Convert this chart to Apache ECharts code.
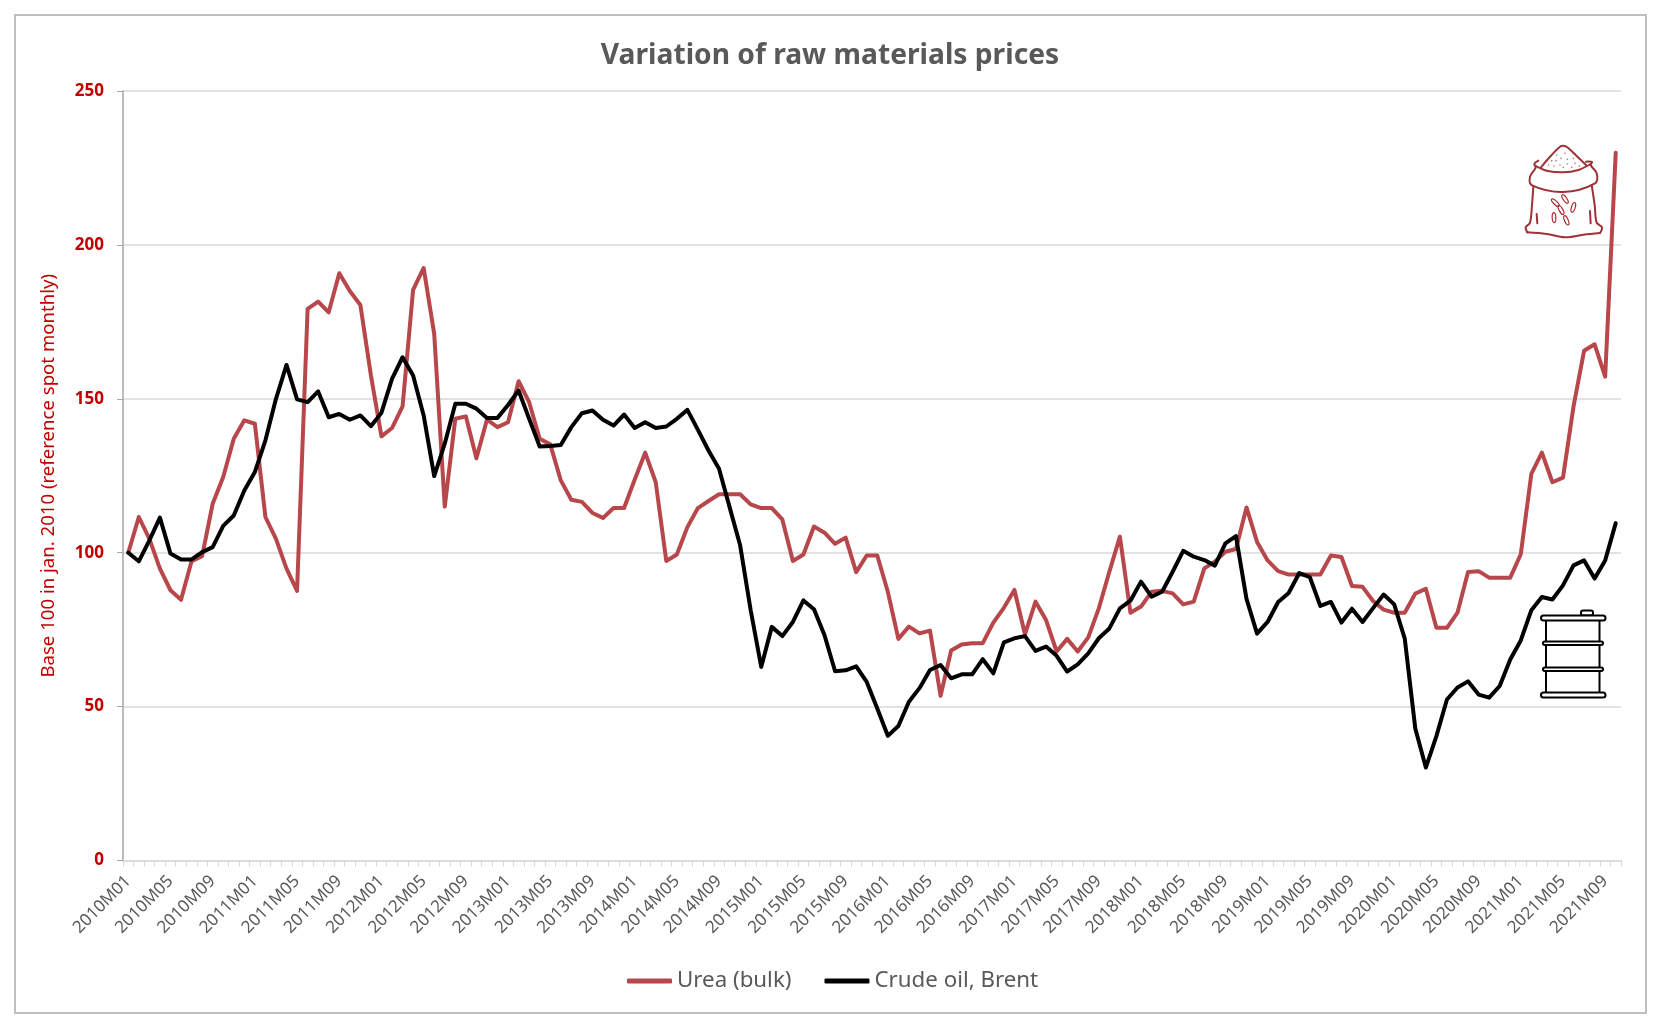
<!DOCTYPE html>
<html>
<head>
<meta charset="utf-8">
<style>html,body{margin:0;padding:0;background:#fff}#c{width:1668px;height:1028px}</style>
<script src="https://cdn.jsdelivr.net/npm/echarts@6/dist/echarts.min.js"></script>
</head>
<body>
<div id="c"></div>
<script>
const years = [2010,2011,2012,2013,2014,2015,2016,2017,2018,2019,2020,2021];
const months = ['01','02','03','04','05','06','07','08','09','10','11','12'];
const categories = [];
years.forEach(y => months.forEach(m => categories.push(y + 'M' + m)));
categories.splice(142);

const urea = [
100,111.6,104.5,94.8,87.8,84.7,97.2,98.9,115.9,124.6,137,143,141.9,111.6,104.5,94.8,87.6,179.2,181.6,178.1,
190.8,185,180.5,157.6,137.8,140.5,147.5,185.4,192.5,171.1,115,143.5,144.3,130.7,143.2,140.8,142.4,155.7,148.9,137,
135.2,123.5,117.2,116.5,112.9,111.3,114.5,114.5,123.7,132.5,122.9,97.3,99.4,108.3,114.5,116.8,119,119,119,115.7,
114.5,114.5,110.8,97.3,99.4,108.5,106.5,102.9,104.9,93.7,99.1,99.1,87.3,72,76,73.8,74.7,53.5,68.2,70.2,
70.6,70.6,77.3,82.1,87.9,73.5,84.1,78.1,67.9,72,67.9,72.5,81.9,93.8,105.2,80.5,82.5,87.3,87.6,86.8,
83.2,84.1,94.9,97.1,100.3,101.2,114.7,103.5,97.5,94,92.9,92.9,92.9,92.9,99.1,98.6,89.2,88.9,84.3,81.5,
80.5,80.5,86.7,88.3,75.6,75.6,80.5,93.7,94,91.9,91.9,91.9,99.5,125.6,132.5,122.9,124.4,147.5,165.6,167.7,
157.2,229.9];

const brent = [
100,97.2,104,111.4,99.7,97.8,97.8,100.2,101.8,108.7,112.1,120.2,126.2,136.5,150,161,149.8,148.9,152.4,144,
145.1,143.2,144.6,141.1,145.5,156.5,163.5,157.6,144.6,124.9,135.4,148.4,148.4,146.8,143.8,143.8,148,152.7,143.5,134.5,
134.7,135,140.8,145.3,146.2,143.2,141.3,144.9,140.5,142.4,140.5,141,143.5,146.4,139.9,133.2,127.3,114.8,102.4,81.3,
62.9,75.9,72.9,77.5,84.5,81.6,73.2,61.5,61.8,63.1,58,49.4,40.5,43.7,51.6,56,61.9,63.5,59.2,60.5,
60.5,65.4,60.8,70.9,72.2,72.9,68.1,69.5,66.5,61.4,63.7,67.3,72.2,75.4,81.9,84.4,90.6,85.7,87.3,93.8,
100.6,98.7,97.6,95.8,103,105.4,85,73.7,77.5,84,86.9,93.4,92.1,82.7,84,77.3,81.8,77.5,82,86.4,
83.2,72.1,42.9,30.2,40.4,52.3,56.2,58.2,53.9,52.9,56.7,65.3,71.5,81.3,85.6,84.8,89.4,95.9,97.5,91.6,
97.5,109.6];

const FONT = '"Noto Sans", sans-serif';
const RED = '#B7474B', SACK = '#9E3237', GREY = '#595959', TICKRED = '#C00000';

const sackStroke = {stroke: SACK, lineWidth: 6, fill: 'none', lineCap: 'round', lineJoin: 'round'};
const sackDots = [[230,75],[255,70],[215,92],[228,92],[243,85],[262,88],[280,85],[205,105],[222,108],[240,105],[262,102],[285,100],[298,108],[275,112],[250,112]];
const sackGrains = [[226,218,0.8],[255,207,0.6],[280,232,-0.3],[243,240,0.5],[259,271,0.4],[222,263,0.05]];
function sackLine(points, fill) {
  return {type: 'polyline', shape: {points, smooth: 0.35}, style: Object.assign({}, sackStroke, fill ? {fill} : {})};
}
const sack = {
  type: 'group', x: 1480, y: 130, scaleX: 1/3, scaleY: 1/3, z: 50,
  children: [
    sackLine([[160,170],[156,225],[150,278],[137,292],[142,307]], null),
    sackLine([[142,307],[200,312],[255,322],[310,314],[360,309]], null),
    sackLine([[360,309],[366,292],[350,278],[344,225],[335,165]], null),
    sackLine([[183,112],[212,78],[240,50],[250,47],[262,52],[290,78],[318,105]], '#fff'),
    sackLine([[175,92],[163,102],[167,113],[150,140],[156,166],[250,186],[345,160],[350,130],[332,105],[336,96],[318,95]], null),
    sackLine([[165,107],[200,122],[250,127],[295,120],[332,102]], null),
    {type: 'line', shape: {x1: 170, y1: 252, x2: 172, y2: 280}, style: sackStroke},
    {type: 'line', shape: {x1: 330, y1: 243, x2: 332, y2: 280}, style: sackStroke}
  ].concat(sackGrains.map(g => ({
    type: 'ellipse', x: g[0], y: g[1], rotation: g[2],
    shape: {cx: 0, cy: 0, rx: 5.5, ry: 15},
    style: {stroke: '#A8242B', lineWidth: 3.5, fill: 'none'}
  }))).concat(sackDots.map(d => ({
    type: 'circle', shape: {cx: d[0], cy: d[1], r: 2.5}, style: {fill: '#B47A7C'}
  })))
};

const barrelStyle = {stroke: '#000', lineWidth: 2, fill: '#fff'};
const barrelLine = {stroke: '#000', lineWidth: 2};
const barrel = {
  type: 'group', x: 0, y: 0, z: 50,
  children: [
    {type: 'rect', shape: {x: 1581, y: 610.5, width: 12, height: 5, r: 2}, style: barrelStyle},
    {type: 'line', shape: {x1: 1546, y1: 620, x2: 1546, y2: 693}, style: barrelLine},
    {type: 'line', shape: {x1: 1599.5, y1: 620, x2: 1599.5, y2: 693}, style: barrelLine},
    {type: 'rect', shape: {x: 1543, y: 641.5, width: 60, height: 3.5, r: 1.7}, style: barrelStyle},
    {type: 'rect', shape: {x: 1543, y: 667.5, width: 60, height: 3.5, r: 1.7}, style: barrelStyle},
    {type: 'rect', shape: {x: 1541, y: 615.5, width: 64.5, height: 5, r: 2.5}, style: barrelStyle},
    {type: 'rect', shape: {x: 1541, y: 692.5, width: 64.5, height: 5, r: 2.5}, style: barrelStyle}
  ]
};

const chart = echarts.init(document.getElementById('c'), null, {renderer: 'canvas', width: 1668, height: 1028});
chart.setOption({
  animation: false,
  backgroundColor: '#fff',
  title: {
    text: 'Variation of raw materials prices',
    left: 825, top: 37, textAlign: 'center',
    textStyle: {fontFamily: FONT, fontSize: 28.2, fontWeight: 'bold', color: GREY}
  },
  legend: {
    left: 622, top: 965, itemWidth: 45, itemHeight: 5, itemGap: 33, icon: 'roundRect',
    textStyle: {fontFamily: FONT, fontSize: 22.3, color: GREY},
    data: ['Urea (bulk)', 'Crude oil, Brent']
  },
  grid: {left: 123, top: 91, width: 1498, height: 769.5},
  xAxis: {
    type: 'category',
    data: categories,
    boundaryGap: true,
    axisLine: {lineStyle: {color: '#D9D9D9', width: 1.5}},
    axisTick: {show: true, interval: 0, length: 6, lineStyle: {color: '#D9D9D9', width: 1}},
    axisLabel: {interval: 3, rotate: 45, margin: 18, fontFamily: FONT, fontSize: 17, color: GREY}
  },
  yAxis: {
    type: 'value', min: 0, max: 250, interval: 50,
    name: 'Base 100 in jan. 2010 (reference spot monthly)',
    nameLocation: 'middle', nameGap: 65, nameRotate: 90,
    nameTextStyle: {fontFamily: FONT, fontSize: 18.6, color: TICKRED},
    axisLine: {show: true, lineStyle: {color: '#A6A6A6', width: 1.5}},
    axisTick: {show: true, length: 6, lineStyle: {color: '#A6A6A6', width: 1}},
    axisLabel: {margin: 19, fontFamily: FONT, fontSize: 17, fontWeight: 'bold', color: TICKRED},
    splitLine: {show: true, lineStyle: {color: '#D9D9D9', width: 1.5}}
  },
  series: [
    {name: 'Urea (bulk)', type: 'line', data: urea, showSymbol: false, symbol: 'none', smooth: false,
     itemStyle: {color: RED},
     lineStyle: {color: RED, width: 4, cap: 'round', join: 'round'}},
    {name: 'Crude oil, Brent', type: 'line', data: brent, showSymbol: false, symbol: 'none', smooth: false,
     itemStyle: {color: '#000'},
     lineStyle: {color: '#000', width: 4, cap: 'round', join: 'round'}}
  ],
  graphic: {elements: [
    {type: 'rect', silent: true, z: -1, shape: {x: 15, y: 15, width: 1631, height: 998},
     style: {fill: 'none', stroke: '#BFBFBF', lineWidth: 2}},
    sack, barrel
  ]}
});
</script>
</body>
</html>
